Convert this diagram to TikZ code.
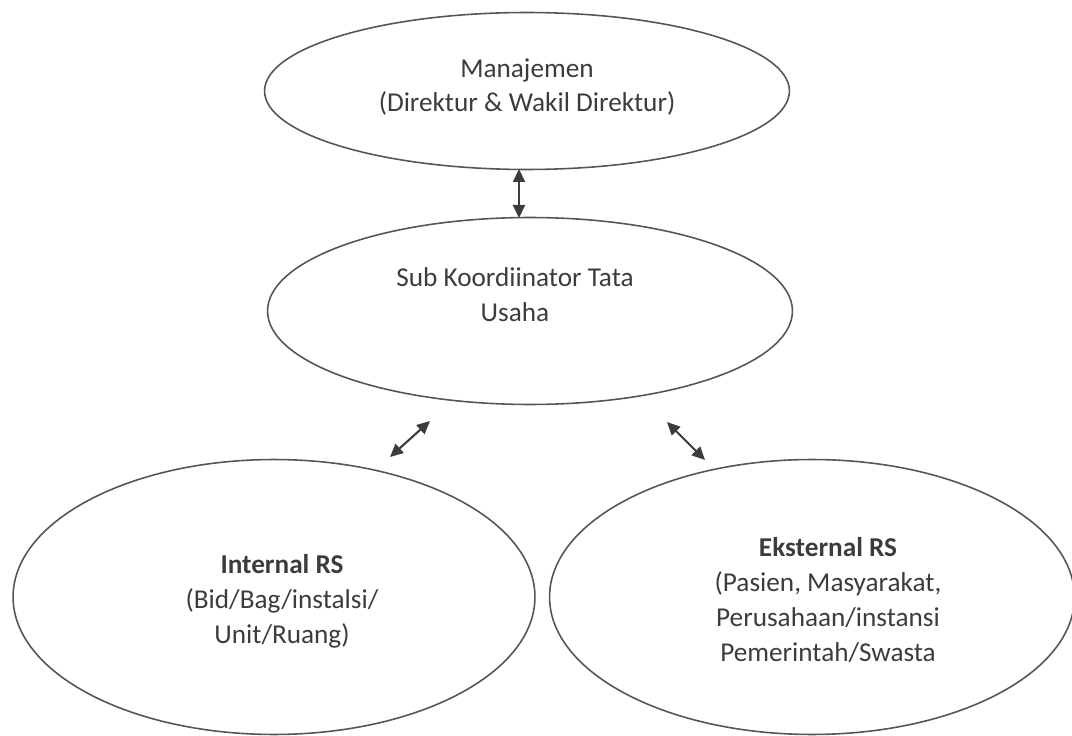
\documentclass[tikz,border=0pt]{standalone}
\usepackage{fontspec}
\setmainfont{Carlito}
\usetikzlibrary{arrows.meta,calc,shapes.geometric}
\usepackage{xcolor}
\definecolor{ink}{HTML}{3C3C3C}
\definecolor{rim}{HTML}{555555}
\tikzset{
  oval/.style={ellipse,draw=rim,line width=0.9pt,inner sep=0pt},
  txt/.style={align=center,text=ink,inner sep=0pt,font=\fontsize{15.5}{19.8}\selectfont},
  arr/.style={{Triangle[length=2.6mm,width=2.4mm]}-{Triangle[length=2.6mm,width=2.4mm]},line width=1.2pt,draw=ink}
}

\begin{document}
\begin{tikzpicture}[x=0.02cm,y=-0.02cm]
        \useasboundingbox (0,0) rectangle (1072,736);
        % ellipses
        \node[oval,minimum width=10.5cm,minimum height=3.14cm] (mgmt) at (527,91) {};
        \node[oval,minimum width=10.5cm,minimum height=3.74cm] (subk) at (530,311) {};
        \node[oval,minimum width=10.44cm,minimum height=5.5cm] (intl) at (274,597) {};
        \node[oval,minimum width=10.5cm,minimum height=5.5cm] (ekst) at (812,597) {};
        % texts
        \node[txt] (mgmt-t) at (527,87) {Manajemen\\(Direktur \& Wakil Direktur)};
        \node[txt] (subk-t) at (515,295) {Sub Koordiinator Tata\\Usaha};
        \node[txt] (intl-t) at (282,601) {\textbf{Internal RS}\\(Bid/Bag/instalsi/\\Unit/Ruang)};
        \node[txt] (ekst-t) at (828,600) {\textbf{Eksternal RS}\\(Pasien, Masyarakat,\\Perusahaan/instansi\\Pemerintah/Swasta};
        % arrows
        \coordinate (mgmt-s) at ($(mgmt.center)+(-8,78)$);
        \coordinate (subk-n) at ($(subk.center)+(-11,-93)$);
        \coordinate (subk-l) at ($(subk.center)+(-100,110)$);
        \coordinate (intl-n) at ($(intl.center)+(116,-140)$);
        \coordinate (subk-r) at ($(subk.center)+(137,111)$);
        \coordinate (ekst-n) at ($(ekst.center)+(-107,-137)$);
        \draw[arr] (mgmt-s) -- (subk-n);
        \draw[arr] (subk-l) -- (intl-n);
        \draw[arr] (subk-r) -- (ekst-n);
      \end{tikzpicture}
\end{document}
